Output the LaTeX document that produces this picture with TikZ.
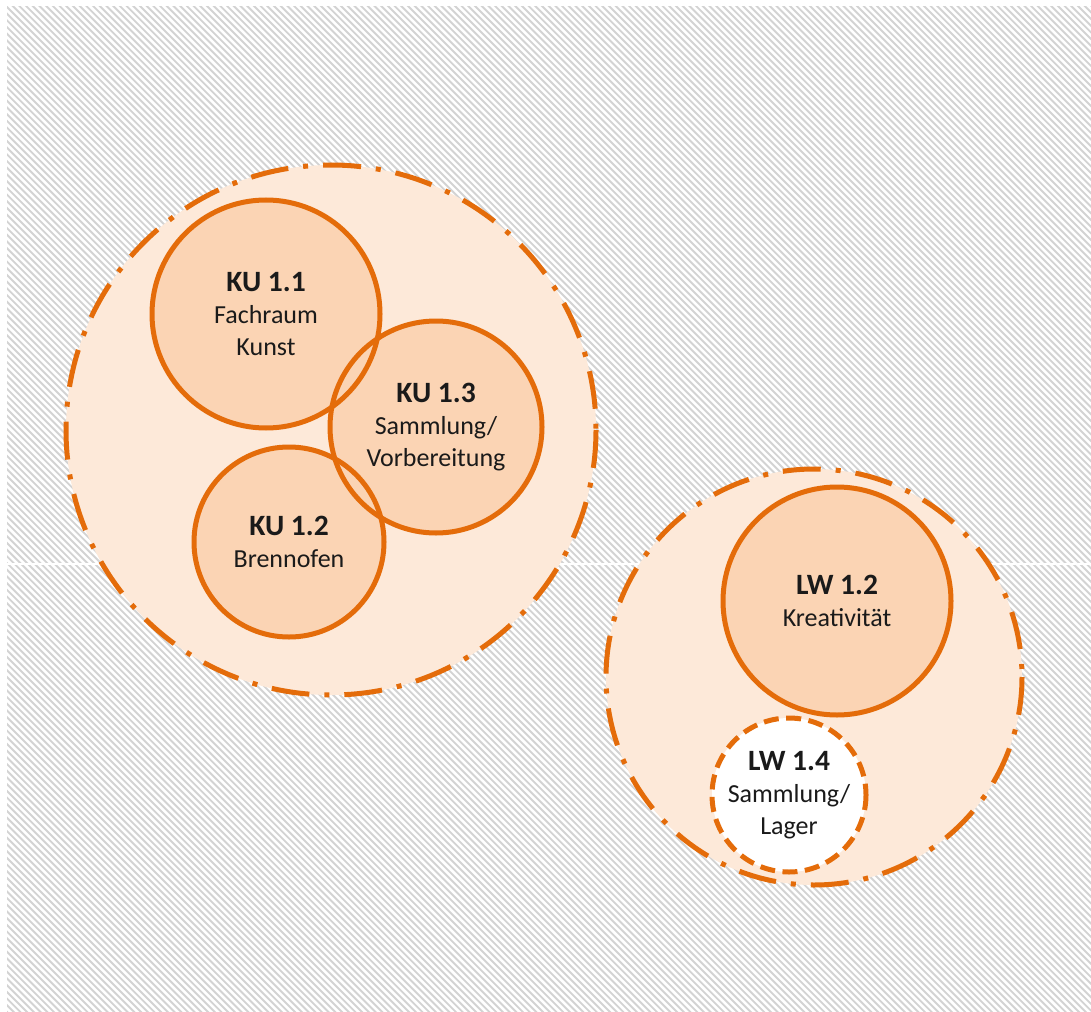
\documentclass[tikz,border=0pt]{standalone}
\usepackage{fontspec}
\setmainfont{Carlito}
\usetikzlibrary{positioning}

\definecolor{accent}{HTML}{E46C0A}
\definecolor{zonefill}{HTML}{FDE9D9}
\definecolor{roomfill}{HTML}{FBD4B4}
\definecolor{hatchgray}{HTML}{D3D3D3}
\definecolor{ink}{HTML}{1A1A1A}

\newcommand{\roomid}[1]{{\fontsize{29.5}{32}\selectfont\bfseries #1}}

\begin{document}
\begin{tikzpicture}[x=1pt, y=-1pt,
zone/.style={circle, fill=zonefill, inner sep=0pt},
room/.style={circle, fill=roomfill, inner sep=0pt, align=center, text=ink, font=\fontsize{26}{32}\selectfont},
store/.style={room, fill=white},
ring/.style={draw=accent, line width=5pt},
zonering/.style={draw=accent, line width=5pt, dash pattern=on 38pt off 15pt on 5pt off 15pt},
storering/.style={draw=accent, line width=5pt, dash pattern=on 15pt off 7.5pt},
hatch/.style={draw=hatchgray, line width=1.9pt}
]
\useasboundingbox (0,0) rectangle (1091,1011);

%background
\begin{scope}
\clip (7,7) rectangle (1091,1011);
\fill[white] (7,7) rectangle (1091,1011);
\foreach \k in {-155,...,165}
  \draw[hatch] ({\k*6.7},0) -- ++(1100,1100);
\draw[white, line width=1.5pt] (7,564) -- (1091,564);
\end{scope}

%create nodes
\node[zone, minimum size=530] (kuzone) at (331,430) {};
\node[zone, minimum size=416] (lwzone) at (814,677) {};

\node[room, minimum size=228] (ku11) at (266,314) {\roomid{KU 1.1}\\Fachraum\\Kunst};
\node[room, minimum size=212] (ku13) at (436,427) {\roomid{KU 1.3}\\Sammlung/\\Vorbereitung};
\node[room, minimum size=190] (ku12) at (289,542) {\roomid{KU 1.2}\\Brennofen};
\node[room, minimum size=228] (lw12) at (837,601) {\roomid{LW 1.2}\\Kreativität};
\node[store, minimum size=154] (lw14) at (789,795) {\roomid{LW 1.4}\\Sammlung/\\Lager};

%draw outlines
\draw[zonering] (kuzone) circle (265);
\draw[zonering] (lwzone) circle (208);
\foreach \n/\r in {ku11/114, ku13/106, ku12/95, lw12/114}
  \draw[ring] (\n) circle (\r);
\draw[storering] (lw14) circle (77);

\end{tikzpicture}
\end{document}
